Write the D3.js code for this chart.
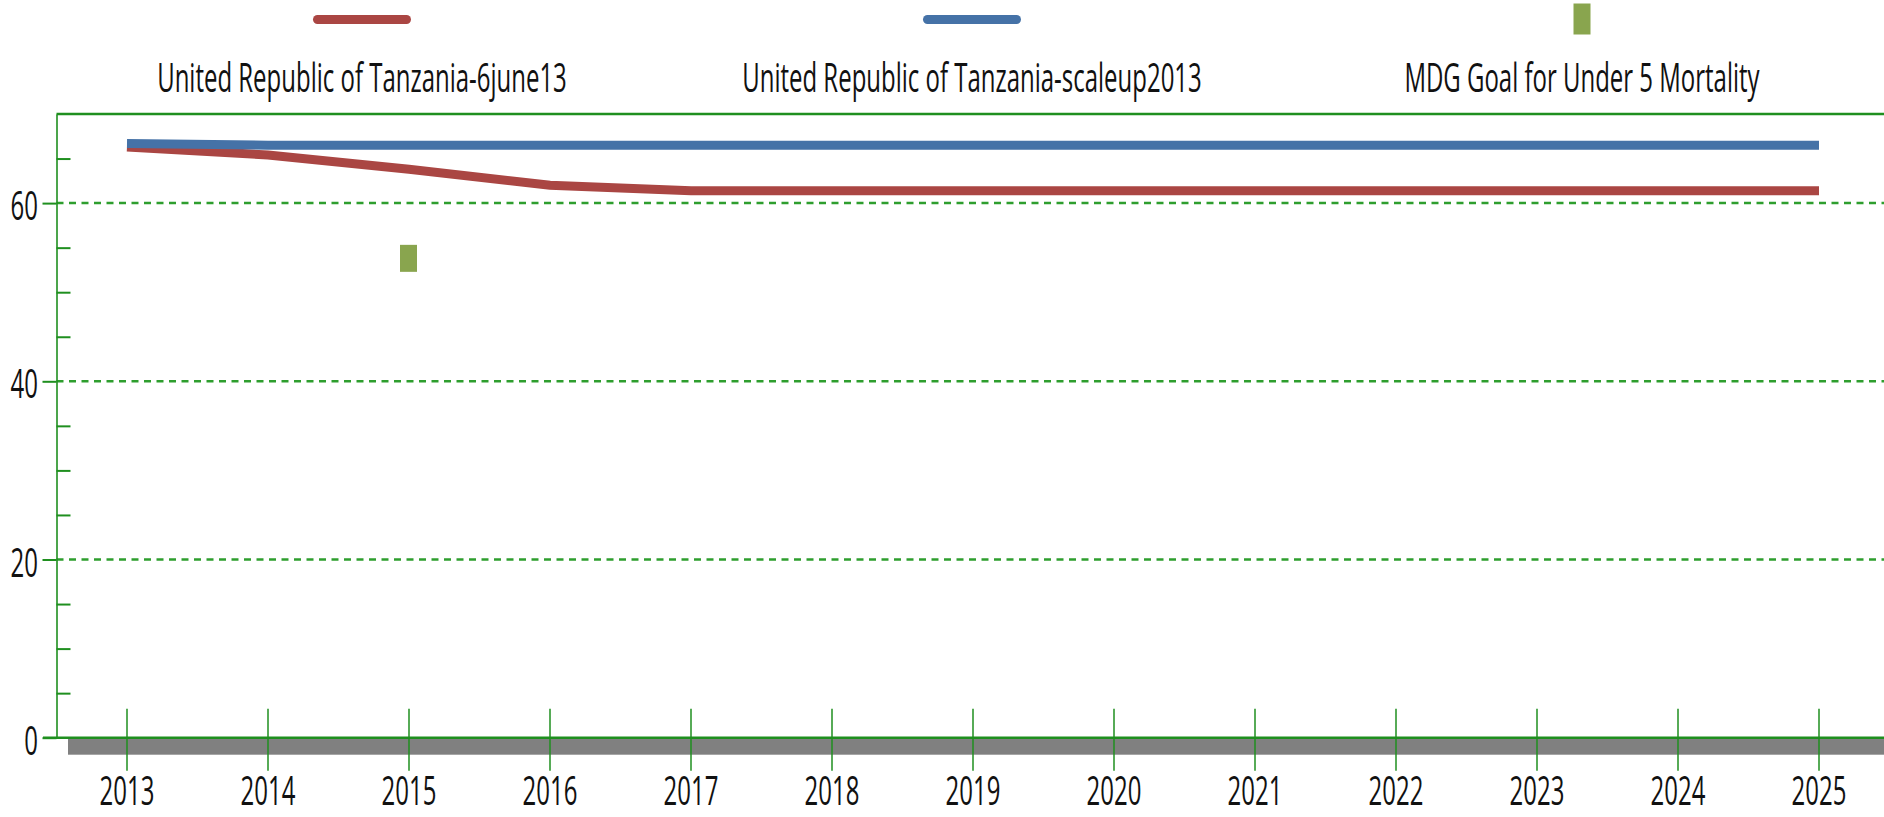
<!DOCTYPE html>
<html>
<head>
<meta charset="utf-8">
<script src="https://cdn.jsdelivr.net/npm/d3@7"></script>
<style>
body { margin: 0; background: #fff; overflow: hidden; }
text { font-family: "Open Sans", sans-serif; font-size: 41px; fill: #111; }
</style>
</head>
<body>
<svg width="1884" height="817"></svg>
<script>
const years = [2013, 2014, 2015, 2016, 2017, 2018, 2019, 2020, 2021, 2022, 2023, 2024, 2025]
const baseline = [66.3, 65.4, 63.8, 62.0, 61.4, 61.4, 61.4, 61.4, 61.4, 61.4, 61.4, 61.4, 61.4]
const scaleup = [66.7, 66.5, 66.5, 66.5, 66.5, 66.5, 66.5, 66.5, 66.5, 66.5, 66.5, 66.5, 66.5]
const goalYears = [2015]
const goalValues = [53.8]
const seriesNames = ['United Republic of Tanzania-6june13', 'United Republic of Tanzania-scaleup2013', 'MDG Goal for Under 5 Mortality']
const seriesColors = ['#AA4643', '#4572A7', '#89A54E']
const majorTicks = [0, 20, 40, 60]
const minorTicks = [5, 10, 15, 25, 30, 35, 45, 50, 55, 65]

const W = 1884
const axisGreen = '#1f8f1f'
const gridGreen = '#2e9e2e'
const squeeze = 0.585 // text in the source is narrow

const svg = d3.select('svg')

const x = d3.scaleLinear().domain([2012.5, 2025.5]).range([56.5, 1889.5])
const y = d3.scaleLinear().domain([0, 70]).range([737.7, 114])

// grey shadow under the x axis
svg.append('rect')
    .attr('x', 68).attr('y', y(0) + 1)
    .attr('width', W - 68).attr('height', 16)
    .attr('fill', '#808080')

// dashed gridlines
svg.append('g')
    .selectAll('line')
    .data(majorTicks.filter(d => d > 0))
    .join('line')
    .attr('x1', x.range()[0]).attr('x2', W)
    .attr('y1', d => y(d)).attr('y2', d => y(d))
    .attr('stroke', gridGreen)
    .attr('stroke-width', 2.5)
    .attr('stroke-dasharray', '7 5.5')

// top frame
svg.append('line')
    .attr('x1', x.range()[0]).attr('x2', W)
    .attr('y1', y(70)).attr('y2', y(70))
    .attr('stroke', axisGreen).attr('stroke-width', 2.5)

// y axis, major ticks outside and minor ticks inside
const yAxis = svg.append('g')
    .attr('transform', `translate(${x.range()[0]},0)`)
    .call(d3.axisLeft(y).tickValues(majorTicks).tickSize(14).tickSizeOuter(0).tickFormat(''))
yAxis.append('g')
    .call(d3.axisRight(y).tickValues(minorTicks).tickSize(14).tickSizeOuter(0).tickFormat(''))
    .call(g => g.select('.domain').remove())
yAxis.selectAll('.domain').attr('stroke', axisGreen).attr('stroke-width', 1.6)
yAxis.selectAll('.tick line').attr('stroke', axisGreen).attr('stroke-width', 2)

svg.append('g')
    .selectAll('text')
    .data(majorTicks)
    .join('text')
    .attr('text-anchor', 'end')
    .attr('transform', d => `translate(38,${y(d) + 17}) scale(${squeeze},1)`)
    .text(d => d)

// x axis
svg.append('line')
    .attr('x1', 43).attr('x2', W)
    .attr('y1', y(0)).attr('y2', y(0))
    .attr('stroke', axisGreen).attr('stroke-width', 2.5)

svg.append('g')
    .selectAll('line')
    .data(years)
    .join('line')
    .attr('x1', d => x(d)).attr('x2', d => x(d))
    .attr('y1', y(0) - 29).attr('y2', y(0) + 33)
    .attr('stroke', axisGreen)
    .attr('stroke-width', 1.5)

svg.append('g')
    .selectAll('text')
    .data(years)
    .join('text')
    .attr('text-anchor', 'middle')
    .attr('transform', d => `translate(${x(d)},805) scale(${squeeze},1)`)
    .text(d => d)

// series
const line = d3.line().x((d, i) => x(years[i])).y(d => y(d))

;[baseline, scaleup].forEach((values, i) => {
    svg.append('path')
        .datum(values)
        .attr('d', line)
        .attr('fill', 'none')
        .attr('stroke', seriesColors[i])
        .attr('stroke-width', 9)
})

svg.append('g')
    .selectAll('rect')
    .data(goalValues)
    .join('rect')
    .attr('x', (d, i) => x(goalYears[i]) - 9)
    .attr('y', d => y(d) - 13.5)
    .attr('width', 17)
    .attr('height', 27)
    .attr('fill', seriesColors[2])

// legend in three equal columns
const legendX = d3.scaleBand().domain(seriesNames).range([57, 1887])
const legend = svg.append('g')
    .selectAll('g')
    .data(seriesNames)
    .join('g')
    .attr('transform', d => `translate(${legendX(d) + legendX.bandwidth() / 2},0)`)

legend.filter((d, i) => i < 2)
    .append('line')
    .attr('x1', -44.5).attr('x2', 44.5)
    .attr('y1', 19.5).attr('y2', 19.5)
    .attr('stroke', (d, i) => seriesColors[i])
    .attr('stroke-width', 9)
    .attr('stroke-linecap', 'round')

legend.filter((d, i) => i === 2)
    .append('rect')
    .attr('x', -8.5).attr('y', 3.5)
    .attr('width', 17).attr('height', 31)
    .attr('fill', seriesColors[2])

legend.append('text')
    .attr('text-anchor', 'middle')
    .attr('transform', `translate(0,92) scale(${squeeze},1)`)
    .text(d => d)
</script>
</body>
</html>
